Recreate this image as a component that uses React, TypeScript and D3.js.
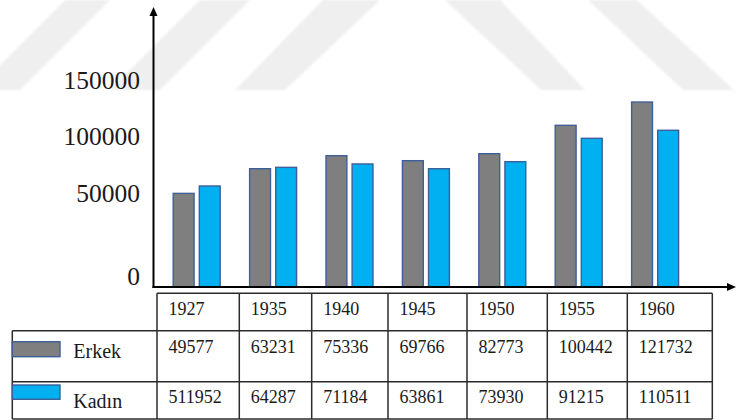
import * as d3 from "d3";

const years = ["1927", "1935", "1940", "1945", "1950", "1955", "1960"];
const seriesNames = ["Erkek", "Kadın"];

// bar heights as they are drawn in the figure
const erkekBars = [49800, 71500, 83000, 78600, 84800, 109900, 130500];
const kadinBars = [56200, 72700, 75700, 71500, 77700, 98400, 105500];

// figures printed in the table under the chart
const erkekTable = ["49577", "63231", "75336", "69766", "82773", "100442", "121732"];
const kadinTable = ["511952", "64287", "71184", "63861", "73930", "91215", "110511"];

const yTicks = [0, 50000, 100000, 150000];

const colors: Record<string, string> = { Erkek: "#7f7f7f", Kadın: "#00b0f0" };
const barStroke = "#3e5f99";
const font = "'Liberation Serif', 'Times New Roman', serif";

// faint background watermark bands
const watermark = [
  [[-25, 90], [20, 90], [110, 0], [65, 0]],
  [[110, 90], [160, 90], [250, 0], [200, 0]],
  [[235, 90], [285, 90], [380, 0], [323, 0]],
  [[445, 0], [500, 0], [585, 90], [541, 90]],
  [[588, 0], [637, 0], [734, 90], [683, 90]],
];

export default function App() {
  const axisX = 153.5;
  const baseY = 287;

  const y = d3.scaleLinear().domain(yTicks).range([baseY, 193, 136.5, 80]);

  const x0 = d3
    .scaleBand()
    .domain(years)
    .range([158.5, 693.3])
    .paddingInner(0.385)
    .paddingOuter(0.1925);

  const x1 = d3
    .scaleBand()
    .domain(seriesNames)
    .range([0, x0.bandwidth()])
    .paddingInner(0.2);

  const rows = years.map((yr, i) => ({
    year: yr,
    values: [
      { key: "Erkek", value: erkekBars[i] },
      { key: "Kadın", value: kadinBars[i] },
    ],
  }));

  // table layout
  const colEdges = [157, 239.3, 311.7, 388, 467, 547.3, 627.3, 712.3];
  const rowEdges = [293.3, 330.7, 381.7, 419];
  const legendLeft = 12.3;
  const lineColor = "#2b2b2b";
  const textColor = "#1a1a1a";

  const poly = d3.line();

  return (
    <svg
      width={736}
      height={420}
      style={{ position: "absolute", left: 0, top: 0, background: "#fff" }}
    >
      <defs>
        <filter id="soft" x="-10%" y="-10%" width="120%" height="120%">
          <feGaussianBlur stdDeviation={1.2} />
        </filter>
      </defs>
      <g filter="url(#soft)">
        {watermark.map((p, i) => (
          <path key={i} d={poly(p as [number, number][]) + "Z"} fill="#efefef" />
        ))}
      </g>

      {/* y tick labels */}
      {yTicks.map((t) => (
        <text
          key={t}
          x={140}
          y={t === 0 ? y(t) - 2 : y(t) + 8.5}
          textAnchor="end"
          fontFamily={font}
          fontSize={25.5}
          fill={textColor}
        >
          {t}
        </text>
      ))}

      {/* bars */}
      {rows.map((r) => (
        <g key={r.year} transform={`translate(${x0(r.year)},0)`}>
          {r.values.map((d) => (
            <rect
              key={d.key}
              x={x1(d.key)}
              y={y(d.value)}
              width={x1.bandwidth()}
              height={baseY - y(d.value)}
              fill={colors[d.key]}
              stroke={barStroke}
              strokeWidth={1.4}
            />
          ))}
        </g>
      ))}

      {/* axes */}
      <line x1={axisX} x2={axisX} y1={14} y2={baseY + 1} stroke="#000" strokeWidth={2} />
      <path d={`M${axisX},7 L${axisX - 4},16 L${axisX + 4},16 Z`} fill="#000" />
      <line x1={axisX - 1} x2={728} y1={baseY} y2={baseY} stroke="#000" strokeWidth={2} />
      <path d={`M736,${baseY} L727,${baseY - 4} L727,${baseY + 4} Z`} fill="#000" />

      {/* table grid */}
      <g stroke={lineColor} strokeWidth={1.5} fill="none">
        <line x1={colEdges[0]} x2={colEdges[colEdges.length - 1]} y1={rowEdges[0]} y2={rowEdges[0]} />
        {rowEdges.slice(1).map((ry) => (
          <line key={ry} x1={legendLeft} x2={colEdges[colEdges.length - 1]} y1={ry} y2={ry} />
        ))}
        {colEdges.map((cx) => (
          <line key={cx} x1={cx} x2={cx} y1={rowEdges[0]} y2={rowEdges[3]} />
        ))}
        <line x1={legendLeft} x2={legendLeft} y1={rowEdges[1]} y2={rowEdges[3]} />
      </g>

      {/* year header */}
      {years.map((yr, i) => (
        <text key={yr} x={colEdges[i] + 11.5} y={315} fontFamily={font} fontSize={18} fill={textColor}>
          {yr}
        </text>
      ))}
      {erkekTable.map((v, i) => (
        <text key={"e" + i} x={colEdges[i] + 11.5} y={353} fontFamily={font} fontSize={18} fill={textColor}>
          {v}
        </text>
      ))}
      {kadinTable.map((v, i) => (
        <text key={"k" + i} x={colEdges[i] + 11.5} y={403} fontFamily={font} fontSize={18} fill={textColor}>
          {v}
        </text>
      ))}

      {/* legend */}
      <rect x={legendLeft} y={341.7} width={47.7} height={15} fill={colors.Erkek} stroke={barStroke} strokeWidth={1.4} />
      <rect x={legendLeft} y={385} width={47.7} height={14.3} fill={colors["Kadın"]} stroke={barStroke} strokeWidth={1.4} />
      <text x={73.3} y={358} fontFamily={font} fontSize={20} fill={textColor}>
        {seriesNames[0]}
      </text>
      <text x={73.3} y={408} fontFamily={font} fontSize={20} fill={textColor}>
        {seriesNames[1]}
      </text>
    </svg>
  );
}
